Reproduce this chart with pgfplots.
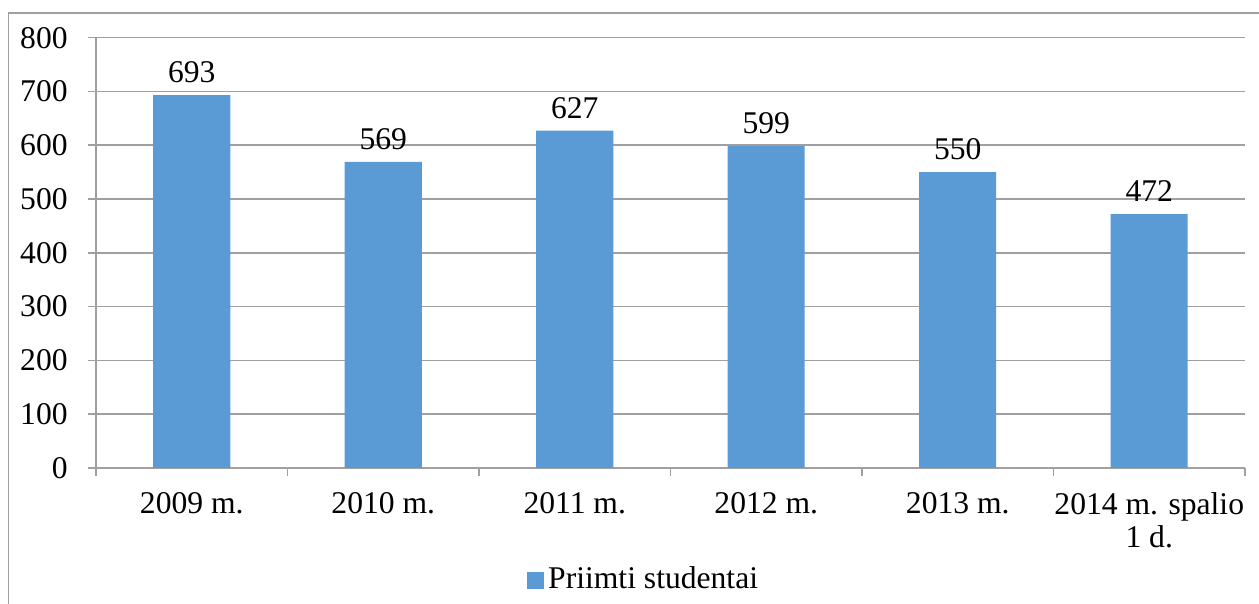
\documentclass[border=0pt]{standalone}
\usepackage{pgfplots}
\pgfplotsset{compat=1.18}
\usepackage{fontspec}
\setmainfont{Liberation Serif}
\definecolor{barblue}{HTML}{5B9BD5}
\definecolor{gridgray}{HTML}{A0A0A0}
\newcommand{\chartfont}{\fontsize{15.8}{16.5}\selectfont}
\begin{document}
\chartfont
\begin{tikzpicture}
\useasboundingbox (0,0) rectangle (629.5pt,302pt);
\draw[gridgray, line width=0.8pt] (4.15pt,-20pt) rectangle (650pt,295.35pt);
\begin{axis}[
 at={(48pt,68pt)}, anchor=south west,
 scale only axis, width=574.5pt, height=215.15pt,
 ybar, bar width=38.5pt,
 xmin=-0.5, xmax=5.5, ymin=0, ymax=800,
 ytick={0,100,...,800},
 xtick={-0.5,0.5,...,5.5},
 x tick label as interval,
 xticklabels={2009 m.,2010 m.,2011 m.,2012 m.,2013 m.,{2014 m. spalio\\1 d.}},
 axis x line=bottom, axis y line=left,
 axis line style={gridgray, line width=0.8pt, -},
 ymajorgrids, major grid style={gridgray, line width=0.8pt},
 tick align=outside,
 major tick length=4pt,
 tick style={gridgray, line width=0.8pt},
 tick label style={font=\chartfont},
 /pgf/number format/assume math mode=true,
 yticklabel style={inner sep=0pt, xshift=-10pt},
 xticklabel style={align=center, inner sep=0pt, anchor=north, yshift=-8pt},
 nodes near coords,
 nodes near coords style={font=\chartfont, inner sep=0pt, anchor=south, yshift=6pt},
 legend style={draw=none, fill=none, at={(0.4775,-0.2603)}, anchor=center, font=\chartfont},
 legend image code/.code={\fill[barblue] (0pt,-4.25pt) rectangle (8.5pt,4.25pt);},
 clip=false,
]
\addplot[fill=barblue, draw=none] coordinates {(0,693) (1,569) (2,627) (3,599) (4,550) (5,472)};
\addlegendentry{Priimti studentai}
\end{axis}
\end{tikzpicture}
\end{document}
